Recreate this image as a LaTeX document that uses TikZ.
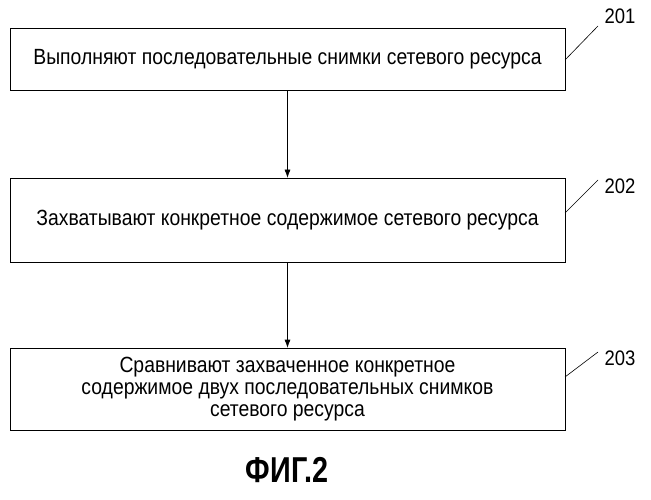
\documentclass[tikz,border=0pt]{standalone}
\usepackage{fontspec}
\setmainfont{Liberation Sans}
\usetikzlibrary{arrows.meta}
\begin{document}
\begin{tikzpicture}[x=1pt,y=-1pt,
  box/.style={draw,line width=0.6pt,minimum width=555pt,inner sep=0pt,align=center,font=\fontsize{22}{25}\selectfont},
  lbl/.style={font=\fontsize{21}{24}\selectfont},
  arr/.style={-{Latex[length=8pt,width=6pt]},line width=0.6pt}]
\useasboundingbox (0,0) rectangle (651,500);
\node[box,minimum height=62pt] (b1) at (287.5,59) {\scalebox{0.88}[1]{Выполняют последовательные снимки сетевого ресурса}};
\node[box,minimum height=84pt] (b2) at (287.5,220) {\scalebox{0.88}[1]{Захватывают конкретное содержимое сетевого ресурса}};
\node[box,minimum height=82pt] (b3) at (287.5,389) {\scalebox{0.88}[1]{\begin{tabular}{c}Сравнивают захваченное конкретное\\[-3pt]содержимое двух последовательных снимков\\[-3pt]сетевого ресурса\end{tabular}}};
\draw[arr] (b1) -- (b2);
\draw[arr] (b2) -- (b3);
\node[lbl] (l1) at (620,16) {\scalebox{0.88}[1]{201}};
\node[lbl] (l2) at (620,186) {\scalebox{0.88}[1]{202}};
\node[lbl] (l3) at (620,358) {\scalebox{0.88}[1]{203}};
\coordinate (c1) at (565,60); \coordinate (d1) at (598,26);
\coordinate (c2) at (565,213); \coordinate (d2) at (598,180);
\coordinate (c3) at (565,377); \coordinate (d3) at (598,352);
\draw[line width=0.6pt] (c1) -- (d1);
\draw[line width=0.6pt] (c2) -- (d2);
\draw[line width=0.6pt] (c3) -- (d3);
\node (cap) at (287,470) {\fontsize{36}{40}\selectfont\bfseries\scalebox{0.8}[1]{ФИГ.2}};
\end{tikzpicture}
\end{document}
